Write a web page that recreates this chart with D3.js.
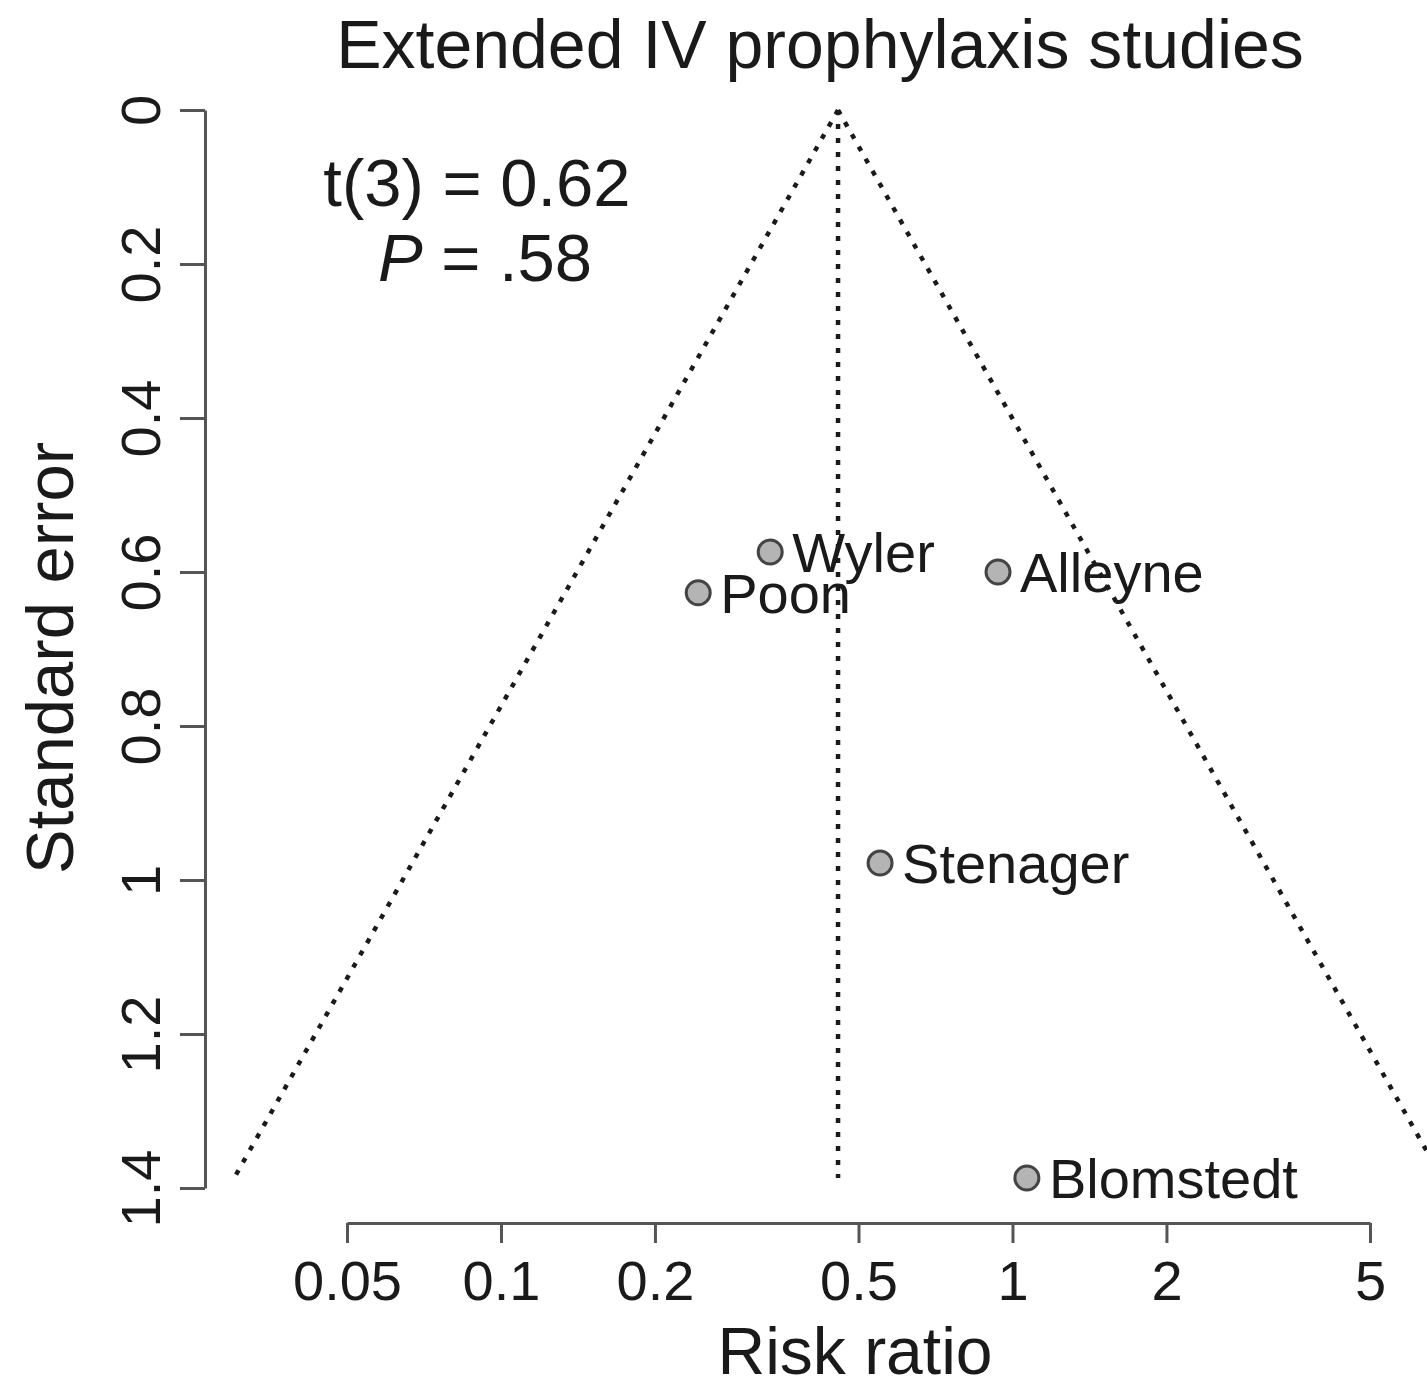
<!DOCTYPE html>
<html>
<head>
<meta charset="utf-8">
<script src="https://cdn.jsdelivr.net/npm/d3@7"></script>
<style>
  body { margin: 0; background: #fff; }
  text { font-family: "Liberation Sans", Arial, Helvetica, sans-serif; fill: #1a1a1a; }
</style>
</head>
<body>
<div id="chart"></div>
<script>
  // study data
  var studies = ["Wyler", "Poon", "Alleyne", "Stenager", "Blomstedt"];
  var riskRatio = [0.336, 0.243, 0.937, 0.551, 1.067];
  var stdError = [0.574, 0.627, 0.600, 0.978, 1.387];
  var pooled = 0.456;

  var xTicks = [0.05, 0.1, 0.2, 0.5, 1, 2, 5];
  var xTickLabels = ["0.05", "0.1", "0.2", "0.5", "1", "2", "5"];
  var yTicks = [0, 0.2, 0.4, 0.6, 0.8, 1, 1.2, 1.4];
  var yTickLabels = ["0", "0.2", "0.4", "0.6", "0.8", "1", "1.2", "1.4"];

  var width = 1427, height = 1390;

  var svg = d3.select("#chart")
    .append("svg")
      .attr("width", width)
      .attr("height", height);

  svg.append("rect")
    .attr("width", width).attr("height", height)
    .attr("fill", "#fff");

  var x = d3.scaleLog().domain([0.05, 5]).range([347, 1370]);
  var y = d3.scaleLinear().domain([0, 1.4]).range([110, 1188]);

  // title
  svg.append("text")
    .attr("x", 820).attr("y", 68)
    .attr("text-anchor", "middle")
    .attr("font-size", 68)
    .text("Extended IV prophylaxis studies");

  // y axis
  var yAxis = svg.append("g")
    .attr("transform", "translate(205,0)")
    .call(d3.axisLeft(y)
      .tickValues(yTicks)
      .tickFormat(function(d, i) { return yTickLabels[i]; })
      .tickSize(25)
      .tickSizeOuter(0));
  yAxis.selectAll("text")
    .attr("x", 0).attr("dy", null)
    .attr("y", -45)
    .attr("transform", "rotate(-90)")
    .attr("text-anchor", "middle")
    .attr("font-size", 56)
    .attr("fill", "#1a1a1a");

  // x axis
  var xAxis = svg.append("g")
    .attr("transform", "translate(0,1223)")
    .call(d3.axisBottom(x)
      .tickValues(xTicks)
      .tickFormat(function(d, i) { return xTickLabels[i]; })
      .tickSize(20)
      .tickSizeOuter(0));
  xAxis.selectAll("text")
    .attr("y", 77).attr("dy", null)
    .attr("font-size", 56)
    .attr("fill", "#1a1a1a");

  svg.selectAll(".domain, .tick line")
    .attr("stroke", "#555")
    .attr("stroke-width", 3);

  // axis titles
  svg.append("text")
    .attr("transform", "translate(73,658) rotate(-90)")
    .attr("text-anchor", "middle")
    .attr("font-size", 67)
    .text("Standard error");

  svg.append("text")
    .attr("x", 855).attr("y", 1374)
    .attr("text-anchor", "middle")
    .attr("font-size", 66)
    .text("Risk ratio");

  // funnel (pseudo 95% limits) and centre line
  var seMax = d3.max(stdError);
  var line = d3.line()
    .x(function(d) { return x(d[0]); })
    .y(function(d) { return y(d[1]); });

  var lower = [[pooled, 0], [Math.exp(Math.log(pooled) - 1.96 * seMax), seMax]];
  var upper = [[pooled, 0], [Math.exp(Math.log(pooled) + 1.96 * seMax), seMax]];
  var centre = [[pooled, 0], [pooled, seMax]];

  [lower, upper, centre].forEach(function(pts) {
    svg.append("path")
      .attr("d", line(pts))
      .attr("fill", "none")
      .attr("stroke", "#1a1a1a")
      .attr("stroke-width", 4.5)
      .attr("stroke-dasharray", "5,9");
  });

  // study points
  var data = studies.map(function(s, i) {
    return {name: s, rr: riskRatio[i], se: stdError[i]};
  });

  svg.selectAll("circle.study")
    .data(data)
    .enter().append("circle")
      .attr("class", "study")
      .attr("cx", function(d) { return x(d.rr); })
      .attr("cy", function(d) { return y(d.se); })
      .attr("r", 12)
      .attr("fill", "#b4b4b4")
      .attr("stroke", "#444")
      .attr("stroke-width", 3);

  svg.selectAll("text.lab")
    .data(data)
    .enter().append("text")
      .attr("class", "lab")
      .attr("x", function(d) { return x(d.rr) + 22; })
      .attr("y", function(d) { return y(d.se) + 20; })
      .attr("font-size", 56)
      .text(function(d) { return d.name; });

  // Egger test annotation
  svg.append("text")
    .attr("x", 477).attr("y", 206)
    .attr("text-anchor", "middle")
    .attr("font-size", 67)
    .text("t(3) = 0.62");
  var p = svg.append("text")
    .attr("x", 485).attr("y", 281)
    .attr("text-anchor", "middle")
    .attr("font-size", 67);
  p.append("tspan").attr("font-style", "italic").text("P");
  p.append("tspan").text(" = .58");
</script>
</body>
</html>
